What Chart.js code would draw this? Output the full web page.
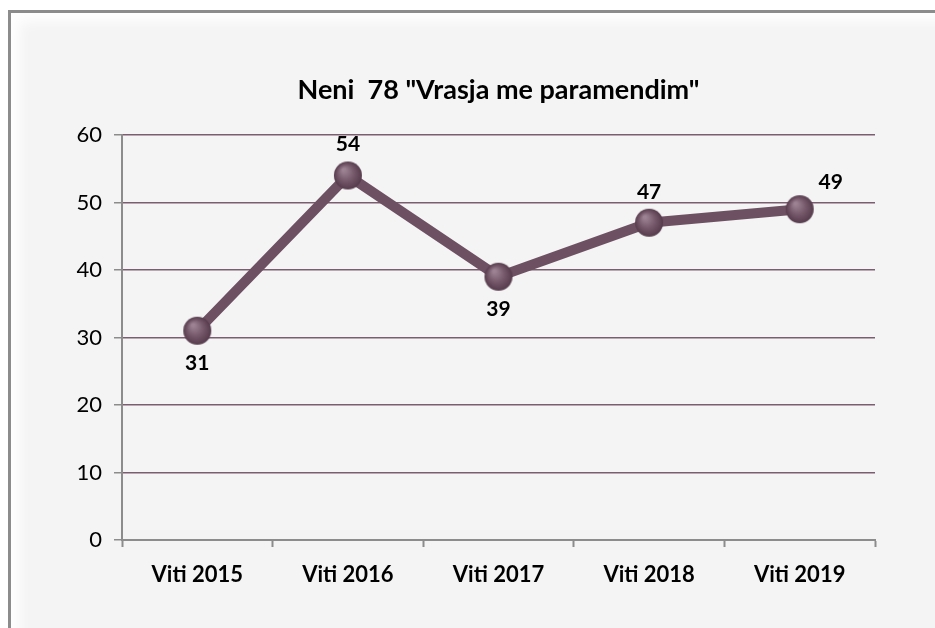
<!DOCTYPE html>
<html>
<head>
<meta charset="utf-8">
<script src="https://cdn.jsdelivr.net/npm/chart.js@4.4.0/dist/chart.umd.min.js"></script>
<style>
  html, body { margin: 0; padding: 0; background: #ffffff; }
  body { width: 935px; height: 628px; position: relative; overflow: hidden; }
  .frame {
    position: absolute; left: 8px; top: 10px; width: 940px; height: 640px;
    border-left: 3px solid #8c8c8c; border-top: 3px solid #8c8c8c;
    background: #f4f4f4;
    box-shadow: inset 14px 14px 14px -6px #ffffff;
  }
  canvas { position: absolute; left: 0; top: 0; }
</style>
</head>
<body>
<div class="frame"></div>
<canvas id="chart" width="935" height="628"></canvas>
<script>
const titleText = 'Neni  78 "Vrasja me paramendim"';
const years = ['Viti 2015', 'Viti 2016', 'Viti 2017', 'Viti 2018', 'Viti 2019'];
const cases = [31, 54, 39, 47, 49];
const yTicks = [0, 10, 20, 30, 40, 50, 60];

// where each value label sits relative to its point
const labelSpots = ['below', 'above', 'below', 'above', 'right'];

const fontFamily = 'Lato, "Open Sans", sans-serif';

// little shaded ball used as the marker
function makeBall(r) {
  const c = document.createElement('canvas');
  c.width = r * 2 + 4;
  c.height = r * 2 + 4;
  const g = c.getContext('2d');
  const cx = r + 2, cy = r + 2;
  const grad = g.createRadialGradient(cx - r * 0.3, cy - r * 0.4, r * 0.1, cx, cy, r);
  grad.addColorStop(0, '#9c8293');
  grad.addColorStop(0.55, '#74586a');
  grad.addColorStop(1, '#563b4c');
  g.fillStyle = grad;
  g.beginPath();
  g.arc(cx, cy, r, 0, Math.PI * 2);
  g.fill();
  return c;
}

// title centred over the plot area (like the original), not the whole canvas
const plotTitle = {
  id: 'plotTitle',
  afterDraw(chart) {
    const ctx = chart.ctx;
    const area = chart.chartArea;
    ctx.save();
    ctx.font = 'bold 27px ' + fontFamily;
    ctx.fillStyle = '#000000';
    ctx.textAlign = 'center';
    ctx.textBaseline = 'middle';
    ctx.fillText(titleText, (area.left + area.right) / 2, area.top - 45);
    ctx.restore();
  }
};

const valueLabels = {
  id: 'valueLabels',
  afterDatasetsDraw(chart) {
    const ctx = chart.ctx;
    const meta = chart.getDatasetMeta(0);
    ctx.save();
    ctx.font = 'bold 21px ' + fontFamily;
    ctx.fillStyle = '#000000';
    ctx.textAlign = 'center';
    ctx.textBaseline = 'middle';
    meta.data.forEach((pt, i) => {
      let x = pt.x, y = pt.y;
      if (labelSpots[i] === 'above') y -= 31;
      else if (labelSpots[i] === 'below') y += 32;
      else { x += 31; y -= 27; }
      ctx.fillText(String(cases[i]), x, y);
    });
    ctx.restore();
  }
};

new Chart(document.getElementById('chart'), {
  type: 'line',
  data: {
    labels: years,
    datasets: [{
      data: cases,
      borderColor: '#6e5063',
      borderWidth: 10,
      pointStyle: makeBall(14),
      pointRadius: 14,
      pointHoverRadius: 14,
      tension: 0
    }]
  },
  options: {
    responsive: false,
    animation: false,
    layout: { padding: { left: 66, right: 60, top: 135, bottom: 0 } },
    plugins: {
      legend: { display: false },
      tooltip: { enabled: false },
      title: { display: false }
    },
    scales: {
      x: {
        offset: true,
        afterFit(scale) { scale.height = 88; },
        border: { color: '#8c8c8c', width: 2 },
        grid: {
          offset: true,
          drawOnChartArea: false,
          tickColor: '#8c8c8c',
          tickLength: 7,
          tickWidth: 2
        },
        ticks: {
          color: '#000000',
          font: { family: fontFamily, size: 22, weight: 'bold' },
          padding: 15
        }
      },
      y: {
        min: 0,
        max: 60,
        afterFit(scale) { scale.width = 56; },
        afterBuildTicks(scale) { scale.ticks = yTicks.map(v => ({ value: v })); },
        border: { color: '#8c8c8c', width: 2 },
        grid: {
          color: '#7b5d70',
          lineWidth: 1.5,
          tickColor: '#8c8c8c',
          tickLength: 8
        },
        ticks: {
          color: '#000000',
          font: { family: fontFamily, size: 22 },
          padding: 12
        }
      }
    }
  },
  plugins: [plotTitle, valueLabels]
});
</script>
</body>
</html>
